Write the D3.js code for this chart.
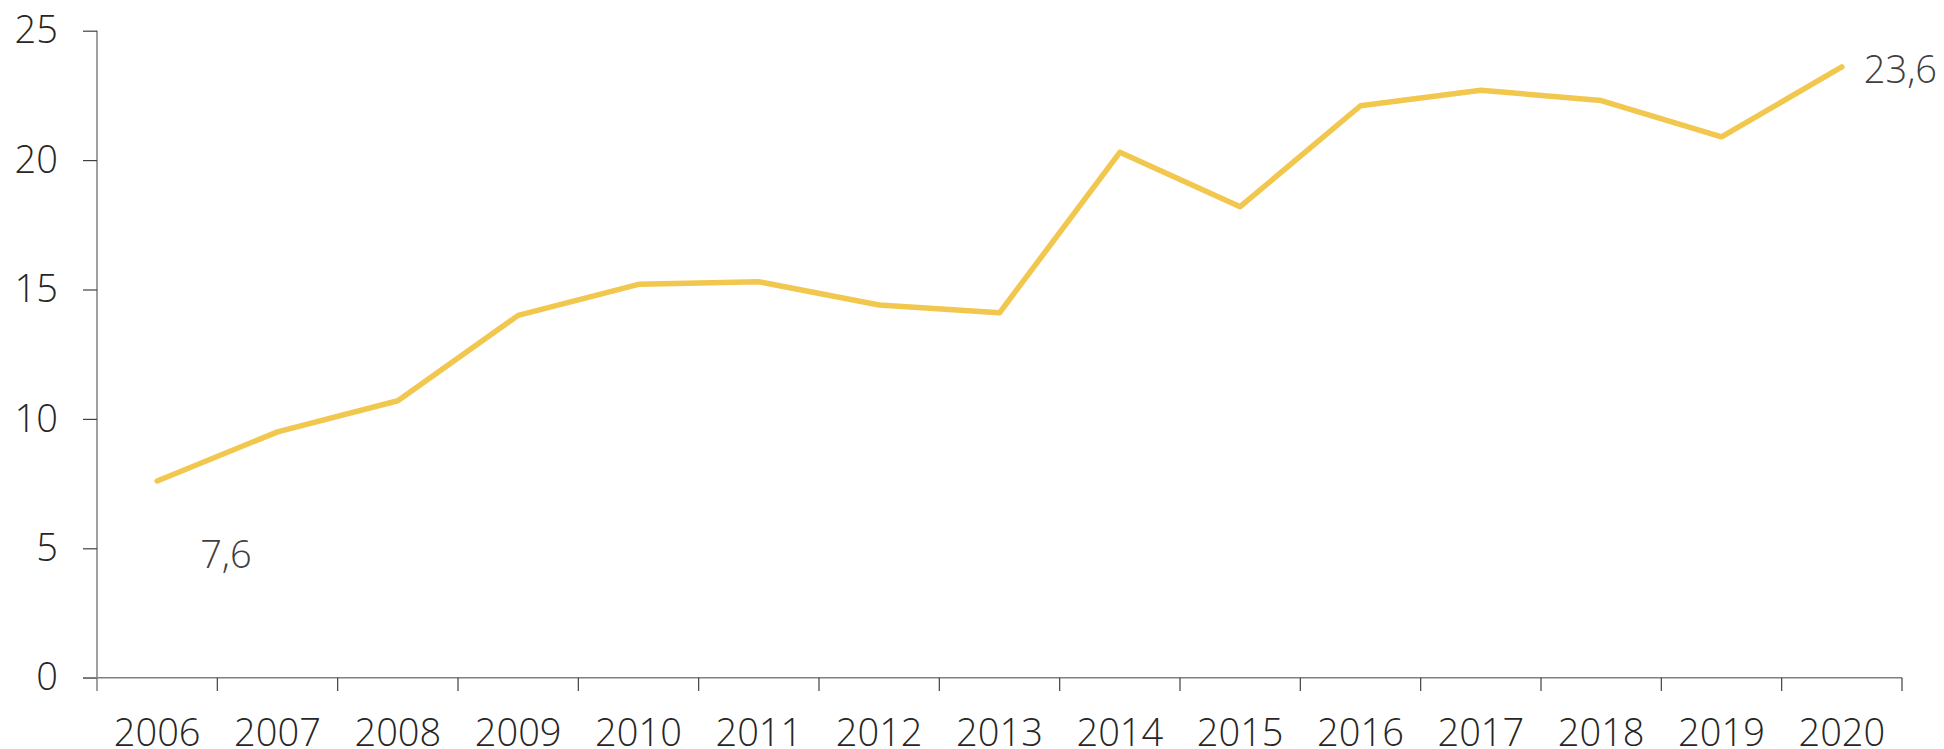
<!DOCTYPE html>
<html>
<head>
<meta charset="utf-8">
<script src="https://cdn.jsdelivr.net/npm/d3@7"></script>
<style>
  html, body { margin: 0; padding: 0; background: #fff; }
  svg { display: block; }
  text { font-family: "Open Sans", "Noto Sans", sans-serif; font-weight: 300; }
</style>
</head>
<body>
<svg id="chart" width="1944" height="749"></svg>
<script>
const years = ["2006","2007","2008","2009","2010","2011","2012","2013","2014","2015","2016","2017","2018","2019","2020"];
const values = [7.6, 9.5, 10.7, 14.0, 15.2, 15.3, 14.4, 14.1, 20.3, 18.2, 22.1, 22.7, 22.3, 20.9, 23.6];
const yTicks = [0, 5, 10, 15, 20, 25];
const labelYears = ["2006", "2020"];
const labelTexts = ["7,6", "23,6"];

(function () {
const W = 1944, H = 749;
const mLeft = 97, mRight = 1902, mTop = 30.7, mBottom = 677.7;

const svg = d3.select("#chart");
const x = d3.scaleBand().domain(years).range([mLeft, mRight]).padding(0);
const y = d3.scaleLinear().domain([0, 25]).range([mBottom, mTop]);

// Y axis
const yAxis = d3.axisLeft(y).tickValues(yTicks).tickSize(14).tickPadding(25).tickFormat(d3.format("d"));
const yg = svg.append("g").attr("transform", `translate(${mLeft},0)`).call(yAxis);
yg.select(".domain").attr("stroke", "#808080").attr("stroke-width", 1.5).attr("d", `M0,${mTop}V${mBottom + 13.3}`);
yg.selectAll(".tick line").attr("stroke", "#404040").attr("stroke-width", 1.2);
yg.selectAll(".tick text").attr("font-size", 38).attr("fill", "#262626")
  .attr("font-family", '"Open Sans", "Noto Sans", sans-serif').attr("font-weight", 300).attr("dy", "0.32em");

// X axis
const xg = svg.append("g");
xg.append("line").attr("x1", mLeft - 14).attr("x2", mRight).attr("y1", mBottom).attr("y2", mBottom)
  .attr("stroke", "#808080").attr("stroke-width", 1.5);
const edges = years.map(yr => x(yr)).concat([x(years[years.length - 1]) + x.bandwidth()]);
xg.selectAll("line.tick").data(edges.slice(1)).enter().append("line").attr("class", "tick")
  .attr("x1", d => d).attr("x2", d => d).attr("y1", mBottom).attr("y2", mBottom + 13.3)
  .attr("stroke", "#404040").attr("stroke-width", 1.2);
xg.selectAll("text").data(years).enter().append("text")
  .attr("x", d => x(d) + x.bandwidth() / 2).attr("y", mBottom + 68.5)
  .attr("text-anchor", "middle").attr("font-size", 38).attr("fill", "#262626").text(d => d);

// Line
const line = d3.line().x((d, i) => x(years[i]) + x.bandwidth() / 2).y(d => y(d));
svg.append("path").datum(values).attr("d", line).attr("fill", "none")
  .attr("stroke", "#F2C74E").attr("stroke-width", 5.5)
  .attr("stroke-linejoin", "round").attr("stroke-linecap", "round");

// Data labels
const offsets = [[43, 87], [22, 16]];
labelYears.forEach((yr, k) => {
  const i = years.indexOf(yr);
  svg.append("text")
    .attr("x", x(yr) + x.bandwidth() / 2 + offsets[k][0])
    .attr("y", y(values[i]) + offsets[k][1])
    .attr("font-size", 38).attr("fill", "#404040").attr("text-anchor", "start")
    .text(labelTexts[k]);
});
})();
</script>
</body>
</html>
